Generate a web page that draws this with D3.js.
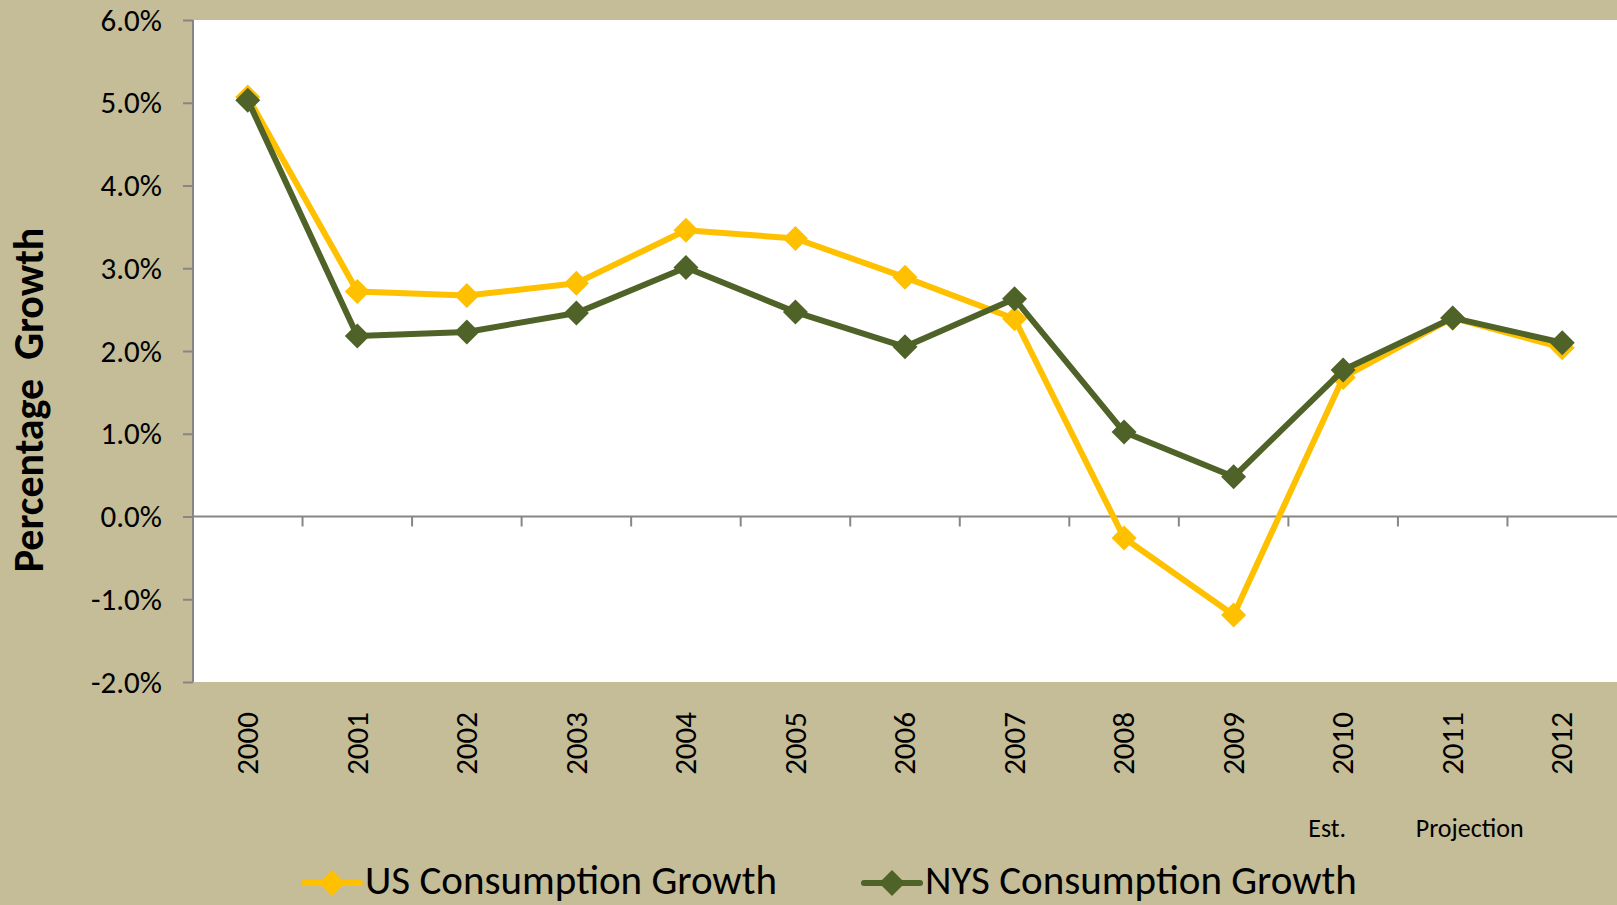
<!DOCTYPE html>
<html>
<head>
<meta charset="utf-8">
<script src="https://cdn.jsdelivr.net/npm/d3@7"></script>
<style>
  html, body { margin: 0; padding: 0; background: #C4BD97; }
  svg { display: block; }
  text { font-family: Carlito, Calibri, Lato, sans-serif; fill: #000; }
</style>
</head>
<body>
<svg id="chart" width="1617" height="905"></svg>
<script>
const years = ["2000","2001","2002","2003","2004","2005","2006","2007","2008","2009","2010","2011","2012"];
const usGrowth  = [5.07, 2.72, 2.67, 2.82, 3.46, 3.36, 2.89, 2.39, -0.26, -1.19, 1.68, 2.40, 2.04];
const nysGrowth = [5.03, 2.18, 2.23, 2.46, 3.01, 2.47, 2.05, 2.63, 1.02, 0.48, 1.77, 2.40, 2.10];
const yTicks = [-2, -1, 0, 1, 2, 3, 4, 5, 6];
const seriesNames = ["US Consumption Growth", "NYS Consumption Growth"];
const seriesColors = ["#FFC000", "#4F6228"];
const yTitle = "Percentage\u00A0\u00A0Growth";
const noteLabels = ["Est.", "Projection"];
const noteYears = ["2010", "2011"];

const W = 1617, H = 905;
const plot = {left: 193, right: 1617, top: 20, bottom: 682};
const noteOffsets = [-16, 17];
const svg = d3.select("#chart");

svg.append("rect").attr("width", W).attr("height", H).attr("fill", "#C4BD97");
svg.append("rect")
  .attr("x", plot.left).attr("y", plot.top)
  .attr("width", plot.right - plot.left).attr("height", plot.bottom - plot.top)
  .attr("fill", "#FFFFFF");

const x = d3.scaleBand().domain(years).range([plot.left, plot.right]).padding(0);
const y = d3.scaleLinear().domain([-2, 6]).range([plot.bottom, plot.top]);
const cx = d => x(d) + x.bandwidth() / 2;

const axisColor = "#868686";

// Y axis
const yAxis = svg.append("g").attr("transform", `translate(${plot.left},0)`)
  .call(d3.axisLeft(y).tickValues(yTicks).tickSize(10).tickPadding(21)
    .tickFormat(d => d.toFixed(1) + "%"));
yAxis.select(".domain").attr("stroke", axisColor).attr("stroke-width", 2)
  .attr("d", `M0,${plot.top}V${plot.bottom}`);
yAxis.selectAll(".tick line").attr("stroke", axisColor).attr("stroke-width", 2);
yAxis.selectAll(".tick text")
  .attr("font-family", "Carlito, Calibri, Lato, sans-serif")
  .attr("font-size", 31).attr("fill", "#000").attr("dy", "0.33em");

// X axis line at zero with ticks at category boundaries
const xAxisG = svg.append("g").attr("transform", `translate(0,${y(0)})`);
xAxisG.append("line").attr("x1", plot.left).attr("x2", plot.right)
  .attr("y1", 0).attr("y2", 0).attr("stroke", axisColor).attr("stroke-width", 2);
xAxisG.selectAll(".xt").data(years.slice(1)).join("line")
  .attr("class", "xt")
  .attr("x1", d => x(d)).attr("x2", d => x(d))
  .attr("y1", 0).attr("y2", 10)
  .attr("stroke", axisColor).attr("stroke-width", 2);

// Category labels (rotated)
svg.selectAll(".catlabel").data(years).join("text")
  .attr("class", "catlabel")
  .attr("transform", d => `translate(${cx(d)},712) rotate(-90)`)
  .attr("text-anchor", "end").attr("dy", "0.33em")
  .attr("font-size", 31)
  .text(d => d);

// Notes under categories
svg.selectAll(".note").data(noteLabels).join("text")
  .attr("class", "note")
  .attr("x", (d, i) => cx(noteYears[i]) + noteOffsets[i])
  .attr("y", 837)
  .attr("text-anchor", "middle")
  .attr("font-size", 26)
  .text(d => d);

// Y title
svg.append("text")
  .attr("transform", `translate(43,400) rotate(-90)`)
  .attr("text-anchor", "middle")
  .attr("font-size", 42).attr("font-weight", "bold")
  .text(yTitle);

// Series
const line = d3.line().x((d, i) => cx(years[i])).y(d => y(d));
const diamond = (px, py, r) => `M${px},${py - r}L${px + r},${py}L${px},${py + r}L${px - r},${py}Z`;
const allSeries = [usGrowth, nysGrowth];

allSeries.forEach((vals, si) => {
  const g = svg.append("g");
  g.append("path").datum(vals)
    .attr("d", line).attr("fill", "none")
    .attr("stroke", seriesColors[si]).attr("stroke-width", 6)
    .attr("stroke-linejoin", "round");
  g.selectAll("path.mk").data(vals).join("path")
    .attr("class", "mk")
    .attr("d", (d, i) => diamond(cx(years[i]), y(d), 12.5))
    .attr("fill", seriesColors[si]);
});

// Legend
const legendX = [304, 864];
const lg = svg.selectAll(".legend").data(seriesNames).join("g")
  .attr("class", "legend")
  .attr("transform", (d, i) => `translate(${legendX[i]},883)`);
lg.append("line").attr("x1", 0).attr("x2", 56).attr("y1", 0).attr("y2", 0)
  .attr("stroke", (d, i) => seriesColors[i]).attr("stroke-width", 6).attr("stroke-linecap", "round");
lg.append("path").attr("d", diamond(28, 0, 13)).attr("fill", (d, i) => seriesColors[i]);
lg.append("text").attr("x", 61).attr("y", 11)
  .attr("font-size", 41)
  .text(d => d);
</script>
</body>
</html>
